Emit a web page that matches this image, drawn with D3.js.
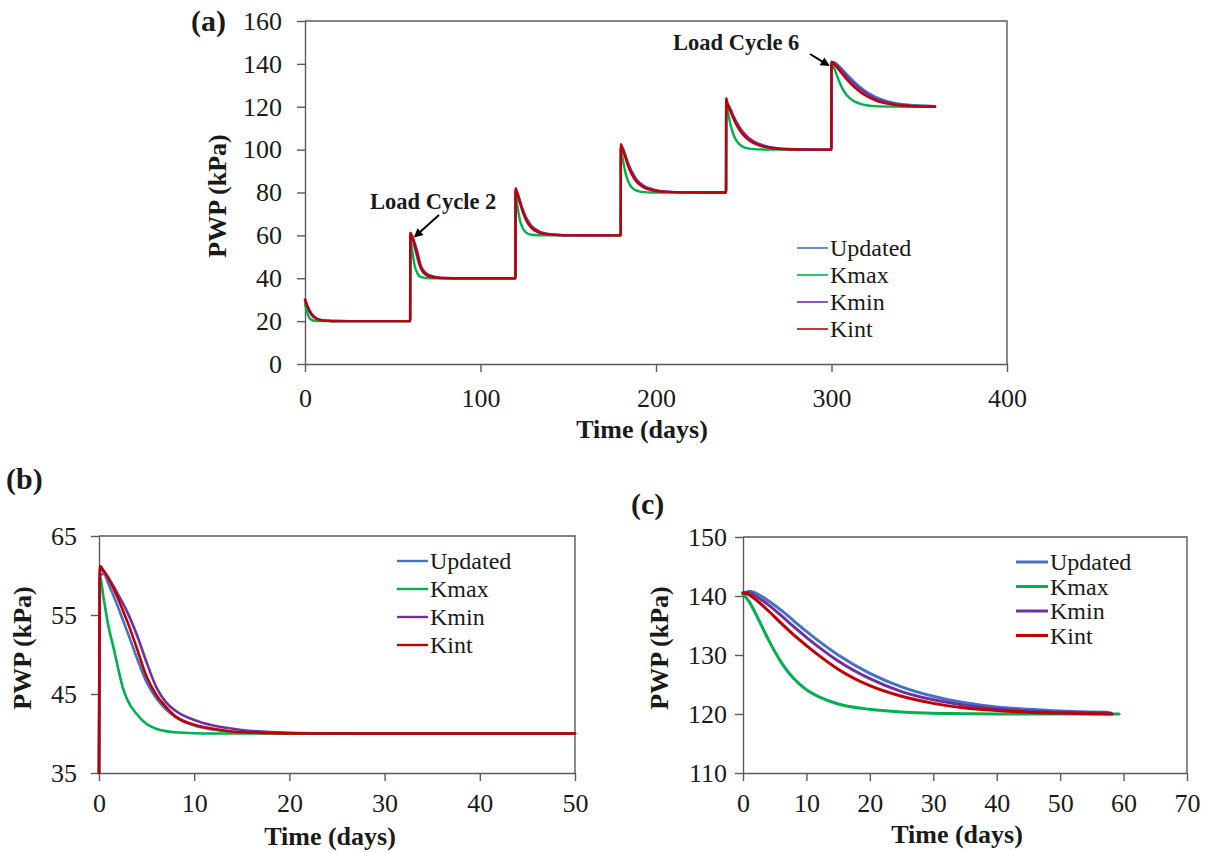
<!DOCTYPE html>
<html><head><meta charset="utf-8">
<script src="https://cdn.jsdelivr.net/npm/d3@7"></script>
<style>
body{margin:0;background:#fff}
svg{display:block}
text{font-family:"Liberation Serif","Times New Roman",Times,serif;fill:#1a1a1a}
</style>
</head><body>
<svg id="chart" width="1213" height="853"></svg>
<script>
// ---------- DATA ----------
const seriesNames = ["Updated", "Kmax", "Kmin", "Kint"];
const seriesColors = ["#4472C4", "#00B050", "#7030A0", "#C00000"];

// Panel (a): six load cycles, time in days
const timeA = [
  0,1,2.5,4,6,9,13,18,25,35,45,59.9,
  60,61,62.5,64,66,69,73,78,85,95,105,119.9,
  120,121,122.5,124,126,129,133,138,145,155,165,179.9,
  180,181,182.5,184,186,189,193,198,205,215,225,239.9,
  240,241,242.5,244,246,249,253,258,265,275,285,299.9,
  300,301,302.5,304,306,309,313,318,325,335,345,359
];
const aUpdated = [
  30,27.5,24.5,22.6,21.2,20.4,20.1,20,20,20,20,20,
  60.2,58.9,54.4,49.5,44.5,41.5,40.4,40.05,40,40,40,40,
  81,79.5,75.5,71.5,67.5,63.8,61.6,60.6,60.15,60.02,60,60,
  101.5,100.5,97,93.3,89.5,85.5,82.8,81.3,80.4,80.05,80,80,
  121.5,121,118.5,115.5,112.2,108.3,105,102.6,101,100.2,100.03,100,
  140.4,140.8,140.3,139.2,137.6,134.9,131.6,128.1,124.6,121.9,120.8,120.3
];
const aKmax = [
  28,24.5,21.5,20.5,20.1,20,20,20,20,20,20,20,
  59.8,53.5,45.8,42.4,40.6,40.07,40,40,40,40,40,40,
  80.5,74,67,63.5,61.3,60.3,60.05,60,60,60,60,60,
  101,96,89.5,85.5,82.6,80.9,80.2,80.03,80,80,80,80,
  121,117.5,111.5,107.3,104,101.6,100.5,100.1,100,100,100,100,
  140.3,139,135.9,132.6,128.8,125.1,122.5,121,120.3,120.05,120,120
];
const aKmin = [
  30,28,25.2,23.2,21.6,20.6,20.2,20.05,20,20,20,20,
  60.8,59.6,56.5,52.4,45.9,42.4,40.9,40.25,40.03,40,40,40,
  81,79.8,76.2,72.3,68.3,64.5,62,60.8,60.2,60.03,60,60,
  101.5,100.7,97.5,93.9,90.1,86,83.2,81.5,80.5,80.08,80.01,80,
  121.5,121,118.8,115.9,112.7,108.8,105.4,102.9,101.2,100.3,100.05,100,
  140.6,140.6,139.7,138.5,136.7,133.9,130.6,127.2,123.8,121.5,120.5,120.15
];
const aKint = [
  30,27.7,24.8,22.9,21.4,20.5,20.15,20.03,20,20,20,20,
  61.2,59.6,55.6,50.7,44.9,41.6,40.4,40.05,40,40,40,40,
  82,79.5,75.3,71.2,67.1,63.5,61.4,60.5,60.1,60,60,60,
  102.5,100.3,96.5,92.6,88.8,84.9,82.4,81,80.3,80.04,80,80,
  124,120.5,117.8,114.7,111.3,107.5,104.4,102.2,100.8,100.15,100.02,100,
  141,140.2,139,137.5,135.4,132.5,129.2,126,123,121,120.3,120
];

// Panel (b): load cycle 2
const timeB = [0,0.1,0.5,1,1.5,2,2.5,3,4,5,6,7,8,10,12,15,20,25,30,40,50];
const bUpdated = [35,60,60.2,58.9,57.5,56,54.4,52.8,49.5,46.5,44.5,43.1,42.1,41,40.5,40.15,40.02,40,40,40,40];
const bKmax    = [35,59.8,57,53.5,51,48.3,45.8,44.2,42.4,41.2,40.6,40.3,40.15,40.03,40,40,40,40,40,40,40];
const bKmin    = [35,60.8,60.5,59.7,58.7,57.6,56.5,55.3,52.4,49,45.9,44,42.9,41.7,41,40.45,40.1,40.03,40,40,40];
const bKint    = [35,61.2,60.6,59.6,58.4,57.1,55.6,54.1,50.7,47.2,44.9,43.4,42.2,41.1,40.6,40.15,40.02,40,40,40,40];

// Panel (c): load cycle 6
const timeC = [0,1,2,4,6,8,10,12,15,20,25,30,35,40,45,50,55,58];
const cEndTimes = [57.5, 59.3, 58, 58.2];
const cUpdated = [140.4,140.8,140.5,139.2,137.6,135.8,134,132.3,130,126.9,124.6,123,121.9,121.2,120.8,120.5,120.35,120.3];
const cKmax    = [140.3,139,137,132.6,128.8,126,124.1,122.9,121.7,120.8,120.35,120.12,120.05,120,120,120,120,120];
const cKmin    = [140.6,140.6,140,138.5,136.7,134.8,133,131.3,129,126,123.8,122.4,121.5,120.9,120.5,120.3,120.2,120.15];
const cKint    = [140.5,140.2,139.4,137.5,135.4,133.4,131.6,129.9,127.6,124.8,123,121.8,121,120.6,120.3,120.15,120.05,120];

const ticksAx = [0,100,200,300,400];
const ticksAy = [0,20,40,60,80,100,120,140,160];
const ticksBx = [0,10,20,30,40,50];
const ticksBy = [35,45,55,65];
const ticksCx = [0,10,20,30,40,50,60,70];
const ticksCy = [110,120,130,140,150];

// ---------- DRAW ----------
const svg = d3.select("#chart");
const axisColor = "#5a5a5a";
const serif = '"Liberation Serif","Times New Roman",Times,serif';

function panel(o) {
  const g = svg.append("g");
  const x = d3.scaleLinear().domain(o.xDomain).range([o.left, o.right]);
  const y = d3.scaleLinear().domain(o.yDomain).range([o.bottom, o.top]);

  g.append("path")
    .attr("d", `M${o.left},${o.top}H${o.right}V${o.bottom}`)
    .attr("fill", "none").attr("stroke", axisColor).attr("stroke-width", 1.4);

  const xa = g.append("g").attr("transform", `translate(0,${o.bottom})`)
    .call(d3.axisBottom(x).tickValues(o.xTicks).tickSize(8).tickSizeOuter(0).tickPadding(o.xPad));
  const ya = g.append("g").attr("transform", `translate(${o.left},0)`)
    .call(d3.axisLeft(y).tickValues(o.yTicks).tickSize(8).tickSizeOuter(0).tickPadding(o.yPad));
  [xa, ya].forEach(a => {
    a.attr("font-family", serif).attr("font-size", o.tickFont);
    a.select(".domain").attr("stroke", axisColor).attr("stroke-width", 1.4);
    a.selectAll(".tick line").attr("stroke", axisColor).attr("stroke-width", 1.4);
    a.selectAll(".tick text").attr("fill", "#1a1a1a");
  });

  const line = d3.line().x(d => x(d[0])).y(d => y(d[1])).curve(d3.curveMonotoneX);
  o.series.forEach((s, i) => {
    const pts = s.map((v, j) => [o.times[i][j], v]);
    g.append("path").datum(pts).attr("d", line)
      .attr("fill", "none").attr("stroke", seriesColors[i])
      .attr("stroke-width", o.lineWidth).attr("stroke-linejoin", "round").attr("stroke-linecap", "round");
  });

  seriesNames.forEach((n, i) => {
    const yy = o.legY + i * o.legStep;
    g.append("line").attr("x1", o.legX).attr("x2", o.legX + o.legLen)
      .attr("y1", yy).attr("y2", yy).attr("stroke", seriesColors[i]).attr("stroke-width", o.legWidth);
    g.append("text").attr("x", o.legX + o.legLen + 2).attr("y", yy).attr("dy", "0.35em")
      .attr("font-size", o.legFont).text(n);
  });

  g.append("text").attr("x", o.xTitleX).attr("y", o.xTitleY).attr("text-anchor", "middle")
    .attr("font-size", 26).attr("font-weight", "bold").text("Time (days)");
  g.append("text").attr("transform", `translate(${o.yTitleX},${o.yTitleY}) rotate(-90)`)
    .attr("text-anchor", "middle").attr("font-size", 26).attr("font-weight", "bold").text("PWP (kPa)");
  g.append("text").attr("x", o.labX).attr("y", o.labY).attr("font-size", 30)
    .attr("font-weight", "bold").text(o.label);
  return {g, x, y};
}

const pa = panel({
  left: 305, right: 1007, top: 21, bottom: 364,
  xDomain: [0, 400], yDomain: [0, 160], xTicks: ticksAx, yTicks: ticksAy,
  xPad: 17, yPad: 15, tickFont: 26,
  times: [timeA, timeA, timeA, timeA],
  series: [aUpdated, aKmax, aKmin, aKint], lineWidth: 2.4,
  legX: 797, legY: 248, legStep: 27, legLen: 31, legWidth: 1.6, legFont: 24,
  xTitleX: 642, xTitleY: 438, yTitleX: 226, yTitleY: 196,
  labX: 191, labY: 31, label: "(a)"
});

function arrow(g, x1, y1, x2, y2) {
  const ang = Math.atan2(y2 - y1, x2 - x1), L = 9, W = 4.5;
  g.append("line").attr("x1", x1).attr("y1", y1)
    .attr("x2", x2 - Math.cos(ang) * L * 0.8).attr("y2", y2 - Math.sin(ang) * L * 0.8)
    .attr("stroke", "#000").attr("stroke-width", 2);
  const bx = x2 - Math.cos(ang) * L, by = y2 - Math.sin(ang) * L;
  const px = -Math.sin(ang) * W, py = Math.cos(ang) * W;
  g.append("path").attr("d", `M${x2},${y2}L${bx + px},${by + py}L${bx - px},${by - py}Z`).attr("fill", "#000");
}
pa.g.append("text").attr("x", 370).attr("y", 209).attr("font-size", 22.5).attr("font-weight", "bold").text("Load Cycle 2");
arrow(pa.g, 439, 215, pa.x(62), pa.y(59));
pa.g.append("text").attr("x", 673).attr("y", 50).attr("font-size", 22.5).attr("font-weight", "bold").text("Load Cycle 6");
arrow(pa.g, 810, 54, pa.x(299), pa.y(139));

panel({
  left: 99, right: 575, top: 536, bottom: 773,
  xDomain: [0, 50], yDomain: [35, 65], xTicks: ticksBx, yTicks: ticksBy,
  xPad: 13, yPad: 14, tickFont: 26,
  times: [timeB, timeB, timeB, timeB],
  series: [bUpdated, bKmax, bKmin, bKint], lineWidth: 2.6,
  legX: 397, legY: 561, legStep: 28, legLen: 31, legWidth: 2.4, legFont: 24,
  xTitleX: 330, xTitleY: 845, yTitleX: 31, yTitleY: 648,
  labX: 6, labY: 489, label: "(b)"
});

const timesC = cEndTimes.map(e => timeC.slice(0, -1).concat([e]));
panel({
  left: 743, right: 1187, top: 537, bottom: 773,
  xDomain: [0, 70], yDomain: [110, 150], xTicks: ticksCx, yTicks: ticksCy,
  xPad: 13, yPad: 8, tickFont: 26,
  times: timesC,
  series: [cUpdated, cKmax, cKmin, cKint], lineWidth: 3,
  legX: 1016, legY: 562, legStep: 24.5, legLen: 32, legWidth: 3, legFont: 24,
  xTitleX: 957, xTitleY: 843, yTitleX: 668, yTitleY: 648,
  labX: 631, labY: 514, label: "(c)"
});
</script>
</body></html>
